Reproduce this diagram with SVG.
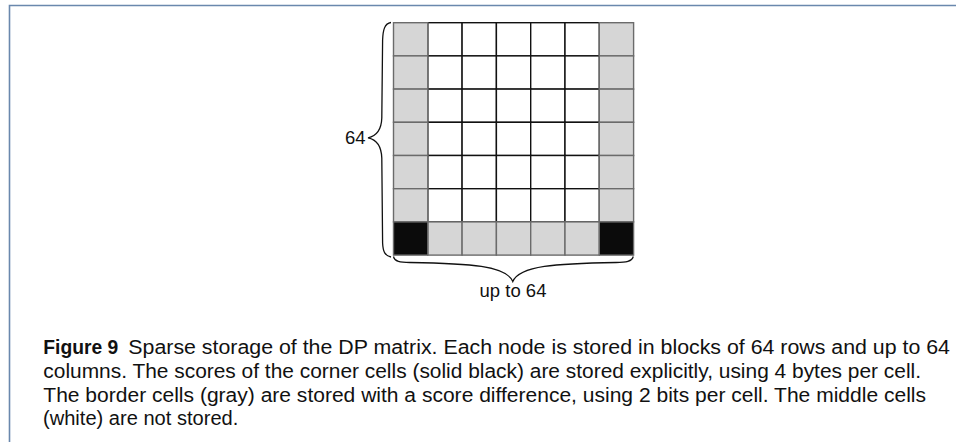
<svg xmlns="http://www.w3.org/2000/svg" width="956" height="442" viewBox="0 0 956 442">
<style>
.frame{stroke:#6a88ad;stroke-width:1.6;fill:none}
.w{fill:#fff;stroke:#111;stroke-width:1.4}
.g{fill:#d6d6d6;stroke:#6b6b6b;stroke-width:1.4}
.b{fill:#0b0b0b;stroke:#6b6b6b;stroke-width:1.4}
.brace{fill:none;stroke:#111;stroke-width:1.3}
.lbl{font-family:"Liberation Sans",Arial,sans-serif;font-size:18.5px;fill:#111}
.cap{font-family:"Liberation Sans",Arial,sans-serif;font-size:20px;fill:#111}
</style>
<rect width="956" height="442" fill="#fff"/>
<path class="frame" d="M9.5,442 V5.5 H956"/>
<g id="matrix">
<g id="white-cells">
<rect class="w" x="427.8" y="22.7" width="34.3" height="33.2"/><rect class="w" x="462.1" y="22.7" width="34.3" height="33.2"/><rect class="w" x="496.4" y="22.7" width="34.3" height="33.2"/><rect class="w" x="530.7" y="22.7" width="34.3" height="33.2"/><rect class="w" x="565" y="22.7" width="34.3" height="33.2"/>
<rect class="w" x="427.8" y="55.9" width="34.3" height="33.2"/><rect class="w" x="462.1" y="55.9" width="34.3" height="33.2"/><rect class="w" x="496.4" y="55.9" width="34.3" height="33.2"/><rect class="w" x="530.7" y="55.9" width="34.3" height="33.2"/><rect class="w" x="565" y="55.9" width="34.3" height="33.2"/>
<rect class="w" x="427.8" y="89.1" width="34.3" height="33.2"/><rect class="w" x="462.1" y="89.1" width="34.3" height="33.2"/><rect class="w" x="496.4" y="89.1" width="34.3" height="33.2"/><rect class="w" x="530.7" y="89.1" width="34.3" height="33.2"/><rect class="w" x="565" y="89.1" width="34.3" height="33.2"/>
<rect class="w" x="427.8" y="122.3" width="34.3" height="33.2"/><rect class="w" x="462.1" y="122.3" width="34.3" height="33.2"/><rect class="w" x="496.4" y="122.3" width="34.3" height="33.2"/><rect class="w" x="530.7" y="122.3" width="34.3" height="33.2"/><rect class="w" x="565" y="122.3" width="34.3" height="33.2"/>
<rect class="w" x="427.8" y="155.5" width="34.3" height="33.2"/><rect class="w" x="462.1" y="155.5" width="34.3" height="33.2"/><rect class="w" x="496.4" y="155.5" width="34.3" height="33.2"/><rect class="w" x="530.7" y="155.5" width="34.3" height="33.2"/><rect class="w" x="565" y="155.5" width="34.3" height="33.2"/>
<rect class="w" x="427.8" y="188.7" width="34.3" height="33.2"/><rect class="w" x="462.1" y="188.7" width="34.3" height="33.2"/><rect class="w" x="496.4" y="188.7" width="34.3" height="33.2"/><rect class="w" x="530.7" y="188.7" width="34.3" height="33.2"/><rect class="w" x="565" y="188.7" width="34.3" height="33.2"/>
</g>
<g id="border-cells">
<rect class="g" x="393.5" y="22.7" width="34.3" height="33.2"/><rect class="g" x="393.5" y="55.9" width="34.3" height="33.2"/><rect class="g" x="393.5" y="89.1" width="34.3" height="33.2"/><rect class="g" x="393.5" y="122.3" width="34.3" height="33.2"/><rect class="g" x="393.5" y="155.5" width="34.3" height="33.2"/><rect class="g" x="393.5" y="188.7" width="34.3" height="33.2"/>
<rect class="g" x="599.3" y="22.7" width="34.3" height="33.2"/><rect class="g" x="599.3" y="55.9" width="34.3" height="33.2"/><rect class="g" x="599.3" y="89.1" width="34.3" height="33.2"/><rect class="g" x="599.3" y="122.3" width="34.3" height="33.2"/><rect class="g" x="599.3" y="155.5" width="34.3" height="33.2"/><rect class="g" x="599.3" y="188.7" width="34.3" height="33.2"/>
<rect class="g" x="427.8" y="221.9" width="34.3" height="33.2"/><rect class="g" x="462.1" y="221.9" width="34.3" height="33.2"/><rect class="g" x="496.4" y="221.9" width="34.3" height="33.2"/><rect class="g" x="530.7" y="221.9" width="34.3" height="33.2"/><rect class="g" x="565" y="221.9" width="34.3" height="33.2"/>
</g>
<g id="corner-cells">
<rect class="b" x="393.5" y="221.9" width="34.3" height="33.2"/>
<rect class="b" x="599.3" y="221.9" width="34.3" height="33.2"/>
</g>
</g>
<g id="braces">
<path class="brace" d="M391,22.5 C384.5,23.5 383,30 382.6,40 L381.8,118 C381.4,130 376.5,136 368,137.8 C376.5,139.5 381.4,146 381.8,158 L382.6,243 C383,252 385,255.5 391,257"/>
<path class="brace" d="M393.5,256.5 C394.5,261.5 400,262.3 410,262.5 C470,263.5 506,265.5 512.8,281.5 C519.5,265.5 556,263.5 616,262.5 C626,262.3 632,261.5 633.3,256.5"/>
</g>
<g id="labels">
<text class="lbl" x="365.5" y="143.8" text-anchor="end">64</text>
<text class="lbl" x="513" y="297" text-anchor="middle">up to 64</text>
</g>
<g id="caption">
<text class="cap" x="43.3" y="354" font-weight="bold" textLength="75" lengthAdjust="spacingAndGlyphs">Figure 9</text>
<text class="cap" x="128.3" y="354" textLength="821.7" lengthAdjust="spacingAndGlyphs">Sparse storage of the DP matrix. Each node is stored in blocks of 64 rows and up to 64</text>
<text class="cap" x="43.3" y="377.7" textLength="877.7" lengthAdjust="spacingAndGlyphs">columns. The scores of the corner cells (solid black) are stored explicitly, using 4 bytes per cell.</text>
<text class="cap" x="43.3" y="401.5" textLength="882.7" lengthAdjust="spacingAndGlyphs">The border cells (gray) are stored with a score difference, using 2 bits per cell. The middle cells</text>
<text class="cap" x="43" y="424.5" textLength="195.3" lengthAdjust="spacingAndGlyphs">(white) are not stored.</text>
</g>
</svg>
